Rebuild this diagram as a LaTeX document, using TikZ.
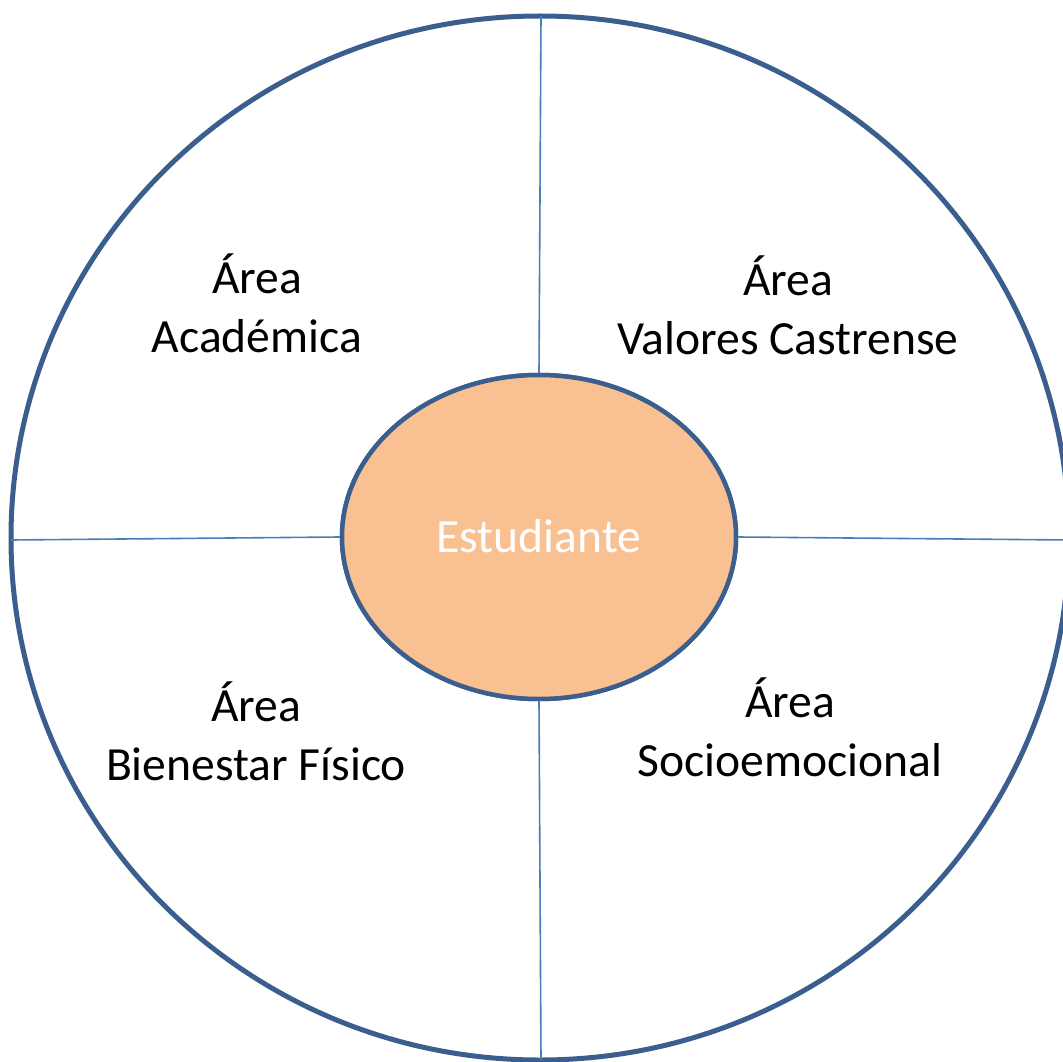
\documentclass[tikz,border=0pt]{standalone}
\usepackage{fontspec}
\setmainfont{Carlito}
\usetikzlibrary{shapes.geometric}
\definecolor{ringblue}{HTML}{3A5F8E}
\definecolor{spokeblue}{HTML}{4A7EBB}
\definecolor{corefill}{HTML}{F9C192}
\tikzset{
  ring/.style={draw=ringblue, line width=5pt},
  core/.style={ellipse, draw=ringblue, line width=4.5pt, fill=corefill,
    minimum width=394pt, minimum height=324pt, inner sep=0pt},
  spoke/.style={draw=spokeblue, line width=1.6pt},
  lbl/.style={align=center, anchor=base, inner sep=0pt,
    font=\fontsize{47.6}{59}\selectfont}
}
\begin{document}
\begin{tikzpicture}[x=1pt,y=-1pt]
\useasboundingbox (0,0) rectangle (1063,1062);
\clip (0,0) rectangle (1063,1062);
\fill[white] (0,0) rectangle (1063,1062);
% outer ring
\draw[ring] (540,538) ellipse [x radius=529, y radius=522];
% spoke end points on the ring
\coordinate (t) at (541,16);
\coordinate (b) at (541,1060);
\coordinate (l) at (11,540);
\coordinate (r) at (1070,540);
% centre
\node[core] (est) at (539,537) {};
\draw[spoke] (t) -- (est.north);
\draw[spoke] (est.south) -- (b);
\draw[spoke] (l) -- (est.west);
\draw[spoke] (est.east) -- (r);
\node[core] at (est.center) {};
\node[lbl, text=white] (estl) at (539,552) {Estudiante};
% area labels (anchor = baseline of the last line)
\node[lbl] (acad) at (257,352) {Área\\Académica};
\node[lbl] (valo) at (788,354) {Área\\Valores Castrense};
\node[lbl] (bien) at (256,780) {Área\\Bienestar Físico};
\node[lbl] (soci) at (790,776) {Área\\Socioemocional};
\end{tikzpicture}
\end{document}
